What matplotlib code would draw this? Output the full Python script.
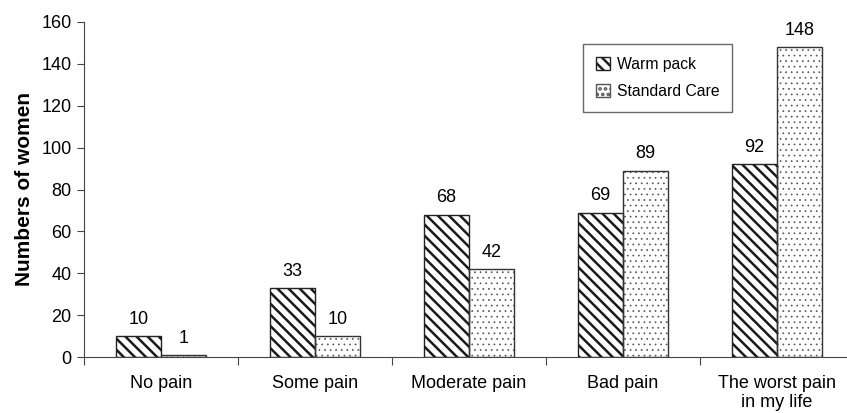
import matplotlib
matplotlib.use("Agg")
import matplotlib.pyplot as plt
import numpy as np
from matplotlib.patches import Patch

categories = ["No pain", "Some pain", "Moderate pain", "Bad pain", "The worst pain\nin my life"]
warm_pack = [10, 33, 68, 69, 92]
standard_care = [1, 10, 42, 89, 148]
series_names = ["Warm pack", "Standard Care"]
yticks = [0, 20, 40, 60, 80, 100, 120, 140, 160]

plt.rcParams['font.family'] = ['Liberation Sans', 'DejaVu Sans']
plt.rcParams['hatch.linewidth'] = 1.8


def set_hlw(patches, lw):
    for p in patches:
        f = getattr(p, 'set_hatch_linewidth', None)
        if f is not None:
            f(lw)


fig = plt.figure(figsize=(8.47, 4.13), dpi=100)
W, H = 847, 413
x0, x1 = 84, 854
y0, y1 = 357, 22
ax = fig.add_axes([x0 / W, 1 - y0 / H, (x1 - x0) / W, (y0 - y1) / H])

x = np.arange(len(categories))
bw = 0.29
# hatch layers
h1 = ax.bar(x - bw / 2, warm_pack, bw, facecolor='white', edgecolor='#1a1a1a',
            hatch='\\\\\\', linewidth=0)
h2 = ax.bar(x + bw / 2, standard_care, bw, facecolor='white', edgecolor='#555555',
            hatch='...', linewidth=0)
set_hlw(h2, 0.5)
# outlines
b1 = ax.bar(x - bw / 2, warm_pack, bw, facecolor='none', edgecolor='#222222',
            linewidth=1.0)
b2 = ax.bar(x + bw / 2, standard_care, bw, facecolor='none', edgecolor='#333333',
            linewidth=1.0)
for bars, vals in ((b1, warm_pack), (b2, standard_care)):
    for r, v in zip(bars, vals):
        ax.annotate(str(v), (r.get_x() + r.get_width() / 2, v), xytext=(0, 6),
                    textcoords='offset points', ha='center', va='bottom', fontsize=13)

ax.set_xlim(-0.5, len(categories) - 0.5)
ax.set_ylim(0, 160)
ax.set_yticks(yticks)
ax.set_xticks(np.arange(len(categories) + 1) - 0.5)
ax.set_xticklabels([])
ax.set_xticks(x, minor=True)
ax.set_xticklabels(categories, minor=True, fontsize=13)
ax.tick_params(axis='x', which='minor', length=0, pad=13)
ax.tick_params(axis='x', which='major', length=6, direction='out', color='#444444')
ax.tick_params(axis='y', length=5, direction='out', labelsize=13, color='#444444', pad=4)
for lbl in ax.get_xticklabels(minor=True):
    lbl.set_linespacing(1.15)
ax.spines['top'].set_visible(False)
ax.spines['right'].set_visible(False)
ax.spines['left'].set_color('#444444')
ax.spines['bottom'].set_color('#444444')
ax.set_ylabel("Numbers of women", fontsize=15, fontweight='bold', labelpad=5)

handles = [Patch(facecolor='white', edgecolor='#222222', hatch='\\\\\\', linewidth=1.0),
           Patch(facecolor='white', edgecolor='#555555', hatch='...', linewidth=1.0)]
set_hlw(handles[1:], 0.5)
leg = ax.legend(handles, series_names, loc='upper left',
                bbox_to_anchor=((583 - x0) / (x1 - x0), (y0 - 44) / (y0 - y1)),
                frameon=True, fancybox=False, edgecolor='#444444', fontsize=11.3,
                handlelength=0.9, handleheight=0.9, handletextpad=0.45, borderpad=0.8,
                labelspacing=0.8, borderaxespad=0)
leg.get_frame().set_linewidth(1.0)

fig.savefig("out.png", dpi=100)
